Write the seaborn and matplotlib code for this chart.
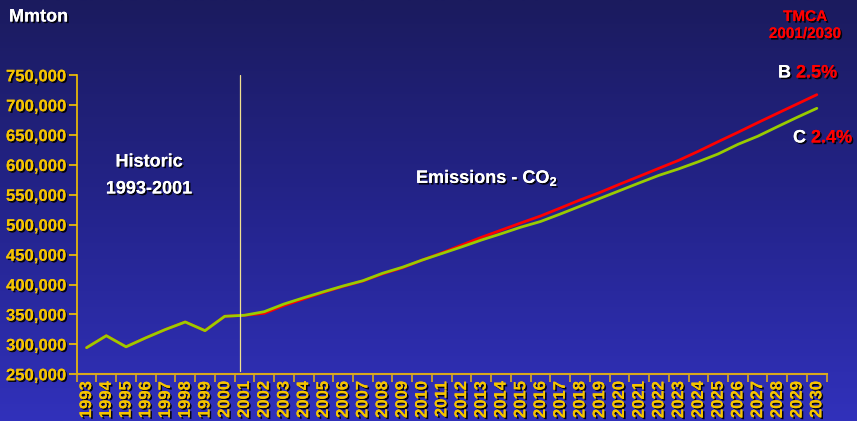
import numpy as np
import pandas as pd
import matplotlib
matplotlib.use("Agg")
import matplotlib.pyplot as plt
import matplotlib.patheffects as pe
from matplotlib.colors import LinearSegmentedColormap
import seaborn as sns

# ---- data -------------------------------------------------------------
years = list(range(1993, 2031))
historic = [294500, 314500, 296000, 311000, 325000, 337500, 323000, 347000, 348700]
scenario_b = historic + [352000, 365000, 376000, 387000, 397000, 406000, 418000,
                         428000, 441000, 453000, 466000, 479000, 491000, 503000,
                         514700, 528000, 541500, 554000, 567700, 581000, 594500,
                         607800, 623000, 639000, 654600, 670700, 686400, 702000,
                         717600]
scenario_c = historic + [354700, 367500, 378000, 388000, 397700, 406500, 419000,
                         429000, 441000, 452000, 463000, 474500, 485000, 496000,
                         505500, 518000, 531000, 544000, 557000, 570000, 582700,
                         593500, 605500, 618500, 634500, 648000, 664000, 679700,
                         694800]
y_ticks = [250000, 300000, 350000, 400000, 450000, 500000, 550000, 600000,
           650000, 700000, 750000]

# ---- style ------------------------------------------------------------
sns.set_theme(style="ticks")
plt.rcParams["font.family"] = ["Liberation Sans", "DejaVu Sans"]
plt.rcParams["mathtext.fontset"] = "custom"
plt.rcParams["mathtext.bf"] = "Liberation Sans:bold"
plt.rcParams["mathtext.rm"] = "Liberation Sans"

GOLD = "#f5c400"
AXIS_GOLD = "#d8a820"
RED = "#ff0000"
GREEN = "#99cc00"
shadow = [pe.withSimplePatchShadow(offset=(1.2, -1.2), shadow_rgbFace="black", alpha=0.9),
          pe.Normal()]

W, H = 857, 421
fig = plt.figure(figsize=(W / 100, H / 100), dpi=100)

# background gradient, dark navy at top to brighter blue at bottom
bg = fig.add_axes([0, 0, 1, 1], zorder=-1)
cmap = LinearSegmentedColormap.from_list("bg", ["#1b1b5e", "#24248c", "#3131bb"])
bg.imshow(np.linspace(0, 1, 256).reshape(-1, 1), aspect="auto", cmap=cmap,
          extent=[0, 1, 0, 1])
bg.set_axis_off()

left, right, top, bottom = 76.7, 826.7, 75.3, 374.3
ax = fig.add_axes([left / W, 1 - bottom / H, (right - left) / W, (bottom - top) / H])
ax.set_facecolor("none")

df = pd.DataFrame({
    "pos": list(range(len(years))) * 2,
    "value": scenario_b + scenario_c,
    "scenario": ["B"] * len(years) + ["C"] * len(years),
})
sns.lineplot(data=df, x="pos", y="value", hue="scenario",
             palette={"B": RED, "C": GREEN}, linewidth=2.0, legend=False, ax=ax)

ax.set_xlim(-0.5, len(years) - 0.5)
ax.set_ylim(250000, 750000)
ax.set_xlabel("")
ax.set_ylabel("")

# divider between historic and projected periods
ax.axvline(7.75, ymin=0.01, ymax=1.0, color="#f0e090", linewidth=0.9)

# y axis
ax.set_yticks(y_ticks)
ax.set_yticklabels([f"{v:,}" for v in y_ticks])
# x axis: ticks on bin boundaries, labels at bin centres
ax.set_xticks(np.arange(-0.5, len(years), 1.0))
ax.set_xticklabels([])
ax.set_xticks(range(len(years)), minor=True)
ax.set_xticklabels([str(y) for y in years], minor=True, rotation=90)
ax.tick_params(axis="x", which="major", length=6, width=1.2, color=AXIS_GOLD)
ax.tick_params(axis="x", which="minor", length=0, pad=5)
ax.tick_params(axis="y", length=6, width=1.2, color=GOLD, pad=2)

for lbl in ax.get_yticklabels() + ax.get_xticklabels(minor=True):
    lbl.set_color(GOLD)
    lbl.set_fontweight("bold")
    lbl.set_fontsize(12)
    lbl.set_path_effects(shadow)

for side in ("top", "right"):
    ax.spines[side].set_visible(False)
ax.spines["left"].set_color(GOLD)
ax.spines["left"].set_linewidth(1.2)
ax.spines["bottom"].set_color(AXIS_GOLD)
ax.spines["bottom"].set_linewidth(1.5)


def ftext(x, y, s, color="white", size=12, ha="left"):
    fig.text(x / W, 1 - y / H, s, color=color, fontsize=size, fontweight="bold",
             ha=ha, va="center", path_effects=shadow)


ftext(9, 17, "Mmton", size=13)
ftext(149, 162, "Historic", size=13, ha="center")
ftext(149, 189, "1993-2001", size=13, ha="center")
ftext(416, 178, r"Emissions - CO$_\mathbf{2}$", size=13)
ftext(805, 17, "TMCA", color=RED, size=11, ha="center")
ftext(805, 34, "2001/2030", color=RED, size=11, ha="center")
ftext(778, 73, "B", size=13)
ftext(796, 73, "2.5%", color=RED, size=13)
ftext(793, 138, "C", size=13)
ftext(811, 138, "2.4%", color=RED, size=13)

fig.savefig("out.png", dpi=100)
